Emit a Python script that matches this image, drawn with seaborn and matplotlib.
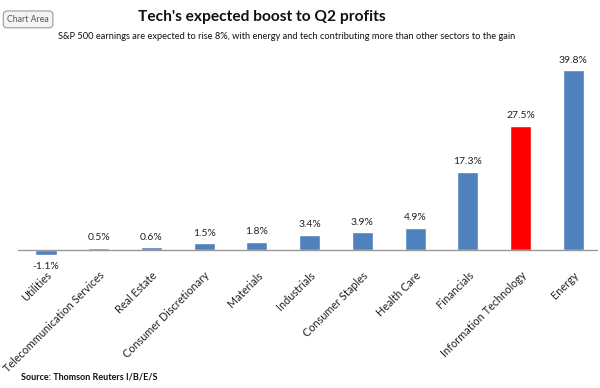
import matplotlib
matplotlib.use("Agg")
import matplotlib.pyplot as plt
import seaborn as sns
import pandas as pd

sectors = ['Utilities', 'Telecommunication Services', 'Real Estate', 'Consumer Discretionary',
           'Materials', 'Industrials', 'Consumer Staples', 'Health Care', 'Financials',
           'Information Technology', 'Energy']
growth = [-1.1, 0.5, 0.6, 1.5, 1.8, 3.4, 3.9, 4.9, 17.3, 27.5, 39.8]
highlight = 'Information Technology'

df = pd.DataFrame({'sector': sectors, 'growth': growth})

sns.set_style('white')
plt.rcParams['font.family'] = ['Lato', 'DejaVu Sans']

fig = plt.figure(figsize=(6, 3.88), dpi=100)
ax = fig.add_axes([0.03, 0.33, 0.967, 0.515])

colors = {s: ('#FF0000' if s == highlight else '#4F81BD') for s in sectors}
sns.barplot(data=df, x='sector', y='growth', hue='sector', palette=colors,
            width=0.4, legend=False, ax=ax, saturation=1)

ax.set_xlim(-0.53, 10.47)
ax.set_ylim(-2.2, 42)
ax.axhline(0, color='#999999', lw=1)
for s in ax.spines.values():
    s.set_visible(False)
ax.set_yticks([])
ax.set_xlabel('')
ax.set_ylabel('')
ax.tick_params(axis='x', length=0, pad=7)
plt.setp(ax.get_xticklabels(), rotation=45, ha='right', rotation_mode='anchor',
         fontsize=7.8, color='#222222')

for i, v in enumerate(growth):
    if v >= 0:
        ax.text(i, v + 1.2, f'{v:.1f}%', ha='center', va='bottom', fontsize=7.5, color='#222222')
    else:
        ax.text(i, v - 1.6, f'{v:.1f}%', ha='center', va='top', fontsize=7.5, color='#222222')

fig.text(0.437, 0.955, "Tech's expected boost to Q2 profits", ha='center', va='center',
         fontsize=11.2, fontweight='bold', color='#111111')
fig.text(0.478, 0.905, 'S&P 500 earnings are expected to rise 8%, with energy and tech '
         'contributing more than other sectors to the gain', ha='center', va='center',
         fontsize=6.7, color='#111111')
fig.text(0.035, 0.028, 'Source: Thomson Reuters I/B/E/S', ha='left', va='center',
         fontsize=6.5, fontweight='bold', color='#111111')
fig.text(0.012, 0.95, 'Chart Area', ha='left', va='center', fontsize=6.3, color='#555555',
         bbox=dict(boxstyle='round,pad=0.45', fc='#F4F4F4', ec='#9A9A9A', lw=0.8))

fig.savefig('out.png', dpi=100)
